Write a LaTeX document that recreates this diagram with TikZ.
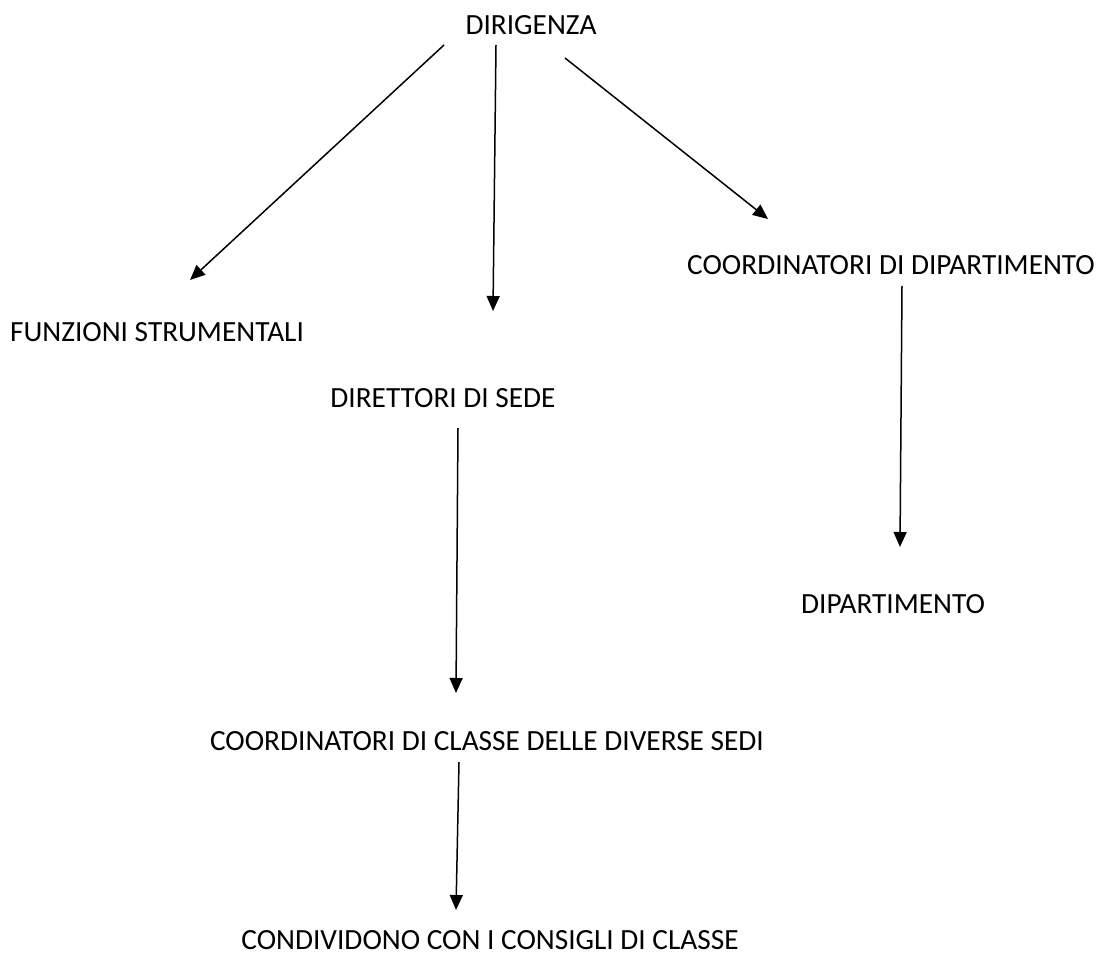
\documentclass[tikz,border=0pt]{standalone}
\usepackage{fontspec}
\setmainfont{Carlito}
\usetikzlibrary{arrows.meta}
\begin{document}
\begin{tikzpicture}[x=1pt,y=-1pt,
  lbl/.style={inner sep=0pt, font=\fontsize{29.3}{34}\selectfont},
  conn/.style={line width=1.5pt, -{Triangle[length=15pt,width=13pt]}}]
\useasboundingbox (0,0) rectangle (1103,955);
\node[lbl] (dir) at (531,25) {DIRIGENZA};
\node[lbl] (fs) at (157,332) {FUNZIONI STRUMENTALI};
\node[lbl] (ds) at (443,398) {DIRETTORI DI SEDE};
\node[lbl] (cd) at (891,265) {COORDINATORI DI DIPARTIMENTO};
\node[lbl] (dp) at (893,604) {DIPARTIMENTO};
\node[lbl] (cc) at (487,741) {COORDINATORI DI CLASSE DELLE DIVERSE SEDI};
\node[lbl] (cv) at (490,940) {CONDIVIDONO CON I CONSIGLI DI CLASSE};
\coordinate (a1s) at (444,45); \coordinate (a1e) at (190,280);
\coordinate (a2s) at (496,45); \coordinate (a2e) at (493,311);
\coordinate (a3s) at (565,58); \coordinate (a3e) at (768,219);
\coordinate (a4s) at (902,286); \coordinate (a4e) at (900,547);
\coordinate (a5s) at (458,428); \coordinate (a5e) at (456,693);
\coordinate (a6s) at (459,762); \coordinate (a6e) at (456,910);
\draw[conn] (a1s) -- (a1e);
\draw[conn] (a2s) -- (a2e);
\draw[conn] (a3s) -- (a3e);
\draw[conn] (a4s) -- (a4e);
\draw[conn] (a5s) -- (a5e);
\draw[conn] (a6s) -- (a6e);
\end{tikzpicture}
\end{document}
